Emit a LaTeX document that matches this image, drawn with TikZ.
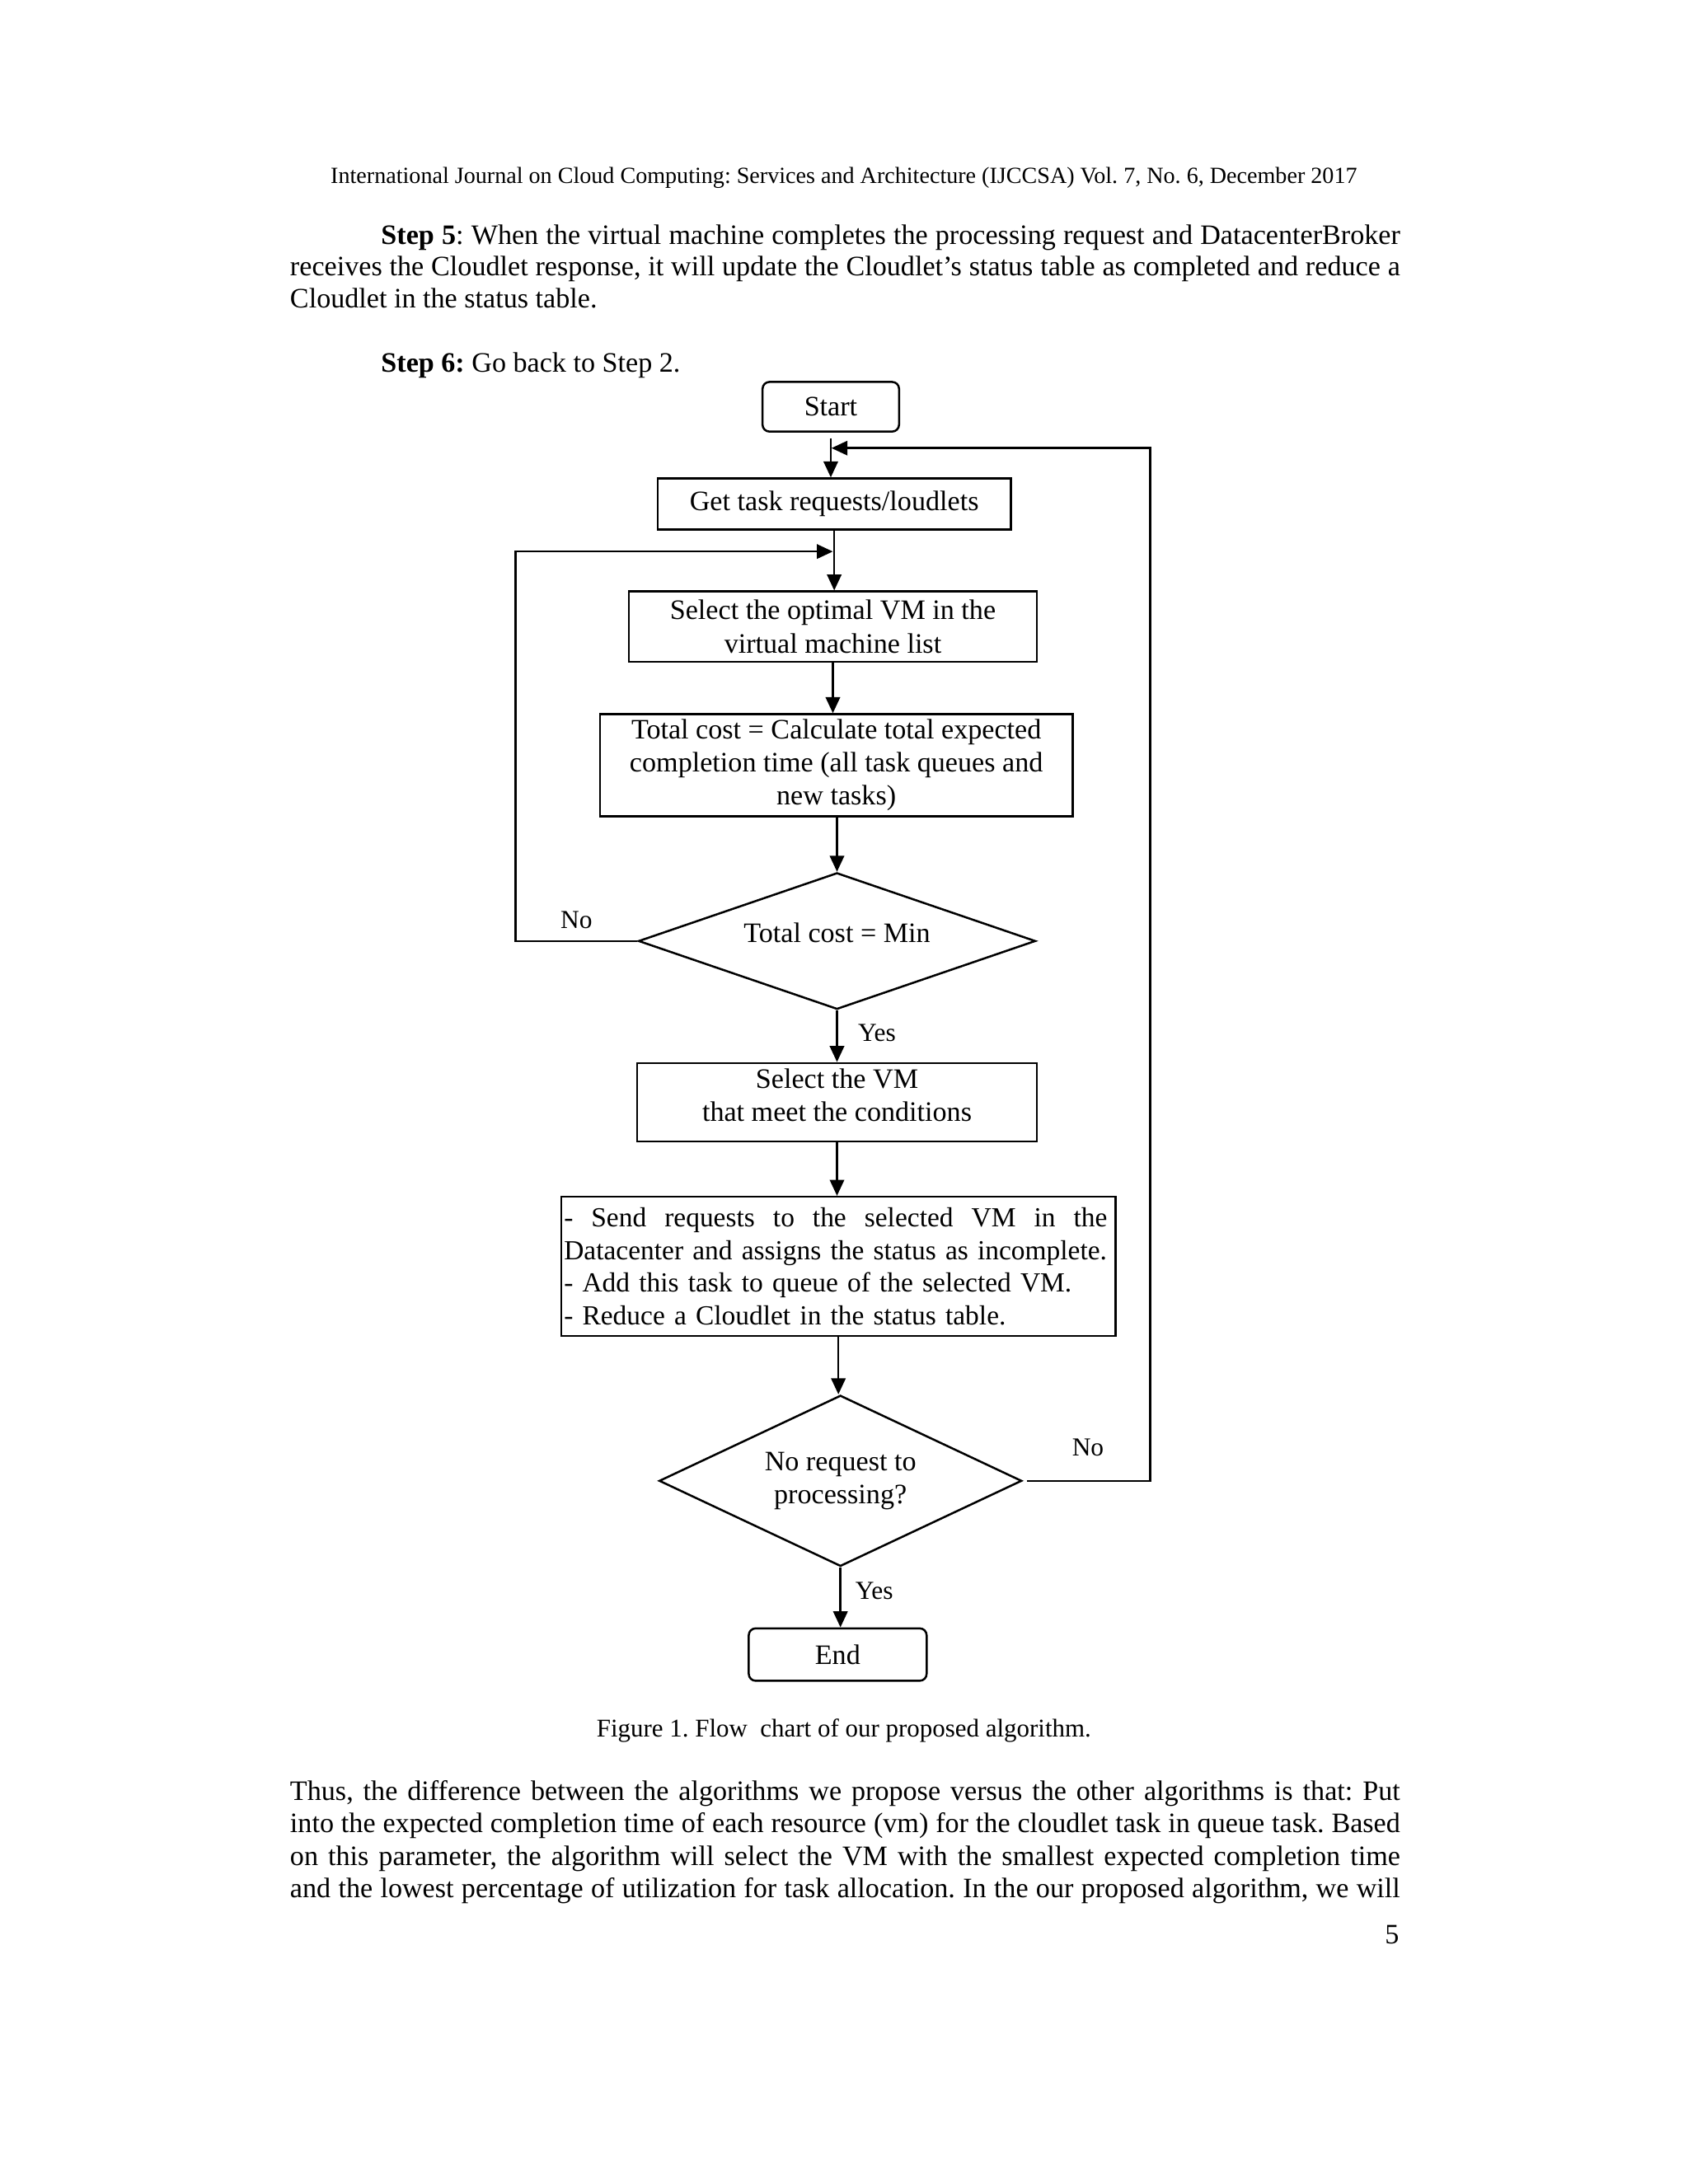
\documentclass[tikz,border=0pt]{standalone}
\usepackage{fontspec}
\setmainfont{Liberation Serif}
\usetikzlibrary{arrows.meta,shapes.geometric}
\newcommand{\fsz}{\fontsize{10.2}{12}\selectfont}
\newcommand{\lsz}{\fontsize{9.4}{11}\selectfont}
\newcommand{\jline}[2]{\makebox[#1][s]{\spaceskip=0.25em plus 10em\relax #2}}
\newcommand{\dep}[1]{\rule[-#1]{0pt}{0pt}}
\frenchspacing
\begin{document}
\frenchspacing
\begin{tikzpicture}[x=0.5pt,y=-0.5pt,
  box/.style={draw, line width=0.75pt, inner sep=1pt, align=center, font=\fsz},
  term/.style={box, rounded corners=2.5pt},
  dec/.style={draw, diamond, aspect=2, inner sep=0pt, align=center, line width=0.75pt, font=\fsz},
  arr/.style={line width=0.75pt, -{Triangle[length=5.8pt,width=5.2pt]}},
  lbl/.style={font=\lsz, inner sep=0pt},
  txt/.style={anchor=base west, inner sep=0pt, font=\fontsize{10.2}{11.5}\selectfont},
  ctxt/.style={anchor=base, inner sep=0pt, font=\fontsize{9.25}{11}\selectfont}]
\fill[white] (0,0) rectangle (1224,1584);
\useasboundingbox (0,0) rectangle (1224,1584);

% page text
\node[ctxt, font=\fontsize{8.4}{10}\selectfont] (hdr) at (612,133) {International Journal on Cloud Computing: Services and Architecture (IJCCSA) Vol. 7, No. 6, December 2017};
\node[txt] (p1) at (276,177) {\jline{369.5pt}{\textbf{Step 5}: When the virtual machine completes the processing request and DatacenterBroker}};
\node[txt] (p2) at (210,200) {\jline{402.5pt}{receives the Cloudlet response, it will update the Cloudlet's status table as completed and reduce a}};
\node[txt] (p3) at (210,223) {Cloudlet in the status table.};
\node[txt] (p4) at (276,270) {\textbf{Step 6:} Go back to Step 2.};

% flowchart nodes
\node[term, minimum width=49.5pt, minimum height=18pt] (start) at (602.5,295) {Start};
\node[box, minimum width=128pt, minimum height=18.5pt] (get) at (605,365.5) {Get task requests/loudlets};
\node[box, minimum width=148pt, minimum height=25.5pt] (sel1) at (604,454.5) {Select the optimal VM in the\\virtual machine list};
\node[box, minimum width=171.5pt, minimum height=37pt] (cost) at (606.5,555) {Total cost = Calculate total expected\\completion time (all task queues and\\new tasks)};
\node[dec, minimum width=144pt, minimum height=49.5pt] (d1) at (607,682.5) {Total cost = Min\dep{6pt}};
\node[box, minimum width=145pt, minimum height=28.5pt] (selvm) at (607,799.5) {Select the VM\\that meet the conditions\dep{5.2pt}};
\node[box, align=left, text width=199pt, inner sep=1pt, minimum width=201pt, minimum height=50.5pt, font=\fontsize{10}{11.85}\selectfont] (send) at (608,918.5)
  {\jline{197pt}{- Send requests to the selected VM in the}\\\mbox{Datacenter and assigns the status as incomplete.}\\\mbox{- Add this task to queue of the selected VM.}\\\mbox{- Reduce a Cloudlet in the status table.}};
\node[dec, minimum width=131.5pt, minimum height=62pt] (d2) at (609.5,1074) {No request to\\processing?};
\node[term, minimum width=64.5pt, minimum height=19pt] (end) at (607.5,1200) {End};

% junction coordinates
\coordinate (j1) at (603,325);
\coordinate (j2) at (604,400);
\coordinate (rx) at (834,0);
\coordinate (lx) at (374,0);

% connectors
\draw[arr] ([yshift=-2pt]start.south) -- (start.south |- get.north);
\draw[arr] (get.south) -- (get.south |- sel1.north);
\draw[arr] (sel1.south) -- (sel1.south |- cost.north);
\draw[arr] (cost.south -| d1.north) -- (d1.north);
\draw[arr] (d1.south) -- (d1.south |- selvm.north);
\draw[arr] (selvm.south) -- (selvm.south |- send.north);
\draw[arr] (send.south) -- (send.south |- d2.north);
\draw[arr] (d2.south) -- (d2.south |- end.north);
\draw[arr] ([xshift=1.5pt]d2.east) -- (d2.east -| rx) |- (j1);
\draw[arr] (d1.west) -- (d1.west -| lx) |- (j2);

% labels
\node[lbl] (no1) at (418,667) {No};
\node[lbl] (yes1) at (636,749) {Yes};
\node[lbl] (no2) at (789,1050) {No};
\node[lbl] (yes2) at (634,1154) {Yes};

% caption and following text
\node[ctxt] (cap) at (612,1260) {Figure 1. Flow\ \ chart of our proposed algorithm.};
\node[txt] (q1) at (210,1306) {\jline{402.5pt}{Thus, the difference between the algorithms we propose versus the other algorithms is that: Put}};
\node[txt] (q2) at (210,1329) {\jline{402.5pt}{into the expected completion time of each resource (vm) for the cloudlet task in queue task. Based}};
\node[txt] (q3) at (210,1353) {\jline{402.5pt}{on this parameter, the algorithm will select the VM with the smallest expected completion time}};
\node[txt] (q4) at (210,1376) {\jline{402.5pt}{and the lowest percentage of utilization for task allocation. In the our proposed algorithm, we will}};
\node[txt, anchor=base east] (pg) at (1015,1410) {5};
\end{tikzpicture}
\end{document}
